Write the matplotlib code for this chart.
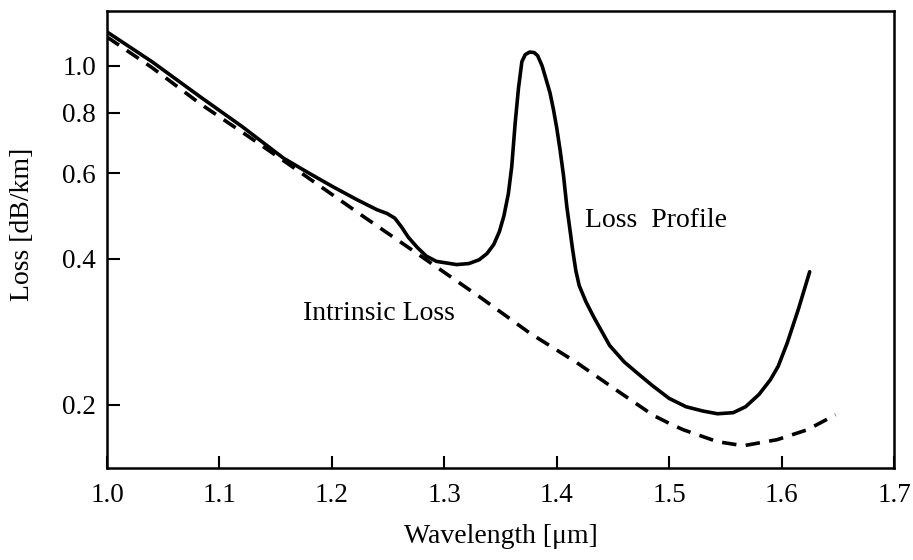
import numpy as np
import matplotlib
matplotlib.use('Agg')
import matplotlib.pyplot as plt
from matplotlib.ticker import FixedLocator, FixedFormatter, NullLocator

# values (wavelength in um, loss in dB/km)
wl_profile = [1.000, 1.040, 1.083, 1.120, 1.157, 1.180, 1.201, 1.222, 1.240,
              1.249, 1.256, 1.262, 1.268, 1.276, 1.284, 1.293, 1.311, 1.322,
              1.331, 1.338, 1.344, 1.349, 1.353, 1.357, 1.360, 1.363, 1.366,
              1.369, 1.372, 1.376, 1.380, 1.383, 1.387, 1.391, 1.394, 1.397,
              1.400, 1.403, 1.406, 1.409, 1.412, 1.414, 1.417, 1.420, 1.426,
              1.433, 1.447, 1.460, 1.472, 1.485, 1.500, 1.515, 1.530, 1.543,
              1.557, 1.568, 1.580, 1.590, 1.597, 1.605, 1.615, 1.625]
loss_profile = [1.175, 1.020, 0.863, 0.750, 0.645, 0.600, 0.563, 0.530, 0.505,
                0.496, 0.485, 0.465, 0.443, 0.422, 0.405, 0.395, 0.389, 0.391,
                0.398, 0.410, 0.428, 0.455, 0.490, 0.545, 0.620, 0.760, 0.900,
                1.020, 1.055, 1.068, 1.065, 1.050, 1.000, 0.930, 0.880, 0.815,
                0.745, 0.670, 0.595, 0.512, 0.455, 0.420, 0.378, 0.352, 0.326,
                0.303, 0.265, 0.245, 0.232, 0.219, 0.206, 0.198, 0.194, 0.1915,
                0.1925, 0.198, 0.210, 0.225, 0.240, 0.268, 0.315, 0.376]

wl_intrinsic = [1.000, 1.040, 1.083, 1.127, 1.172, 1.228, 1.270, 1.290,
                1.332, 1.376, 1.418, 1.456, 1.486, 1.500, 1.5125, 1.543,
                1.566, 1.596, 1.623, 1.648]
loss_intrinsic = [1.147, 0.992, 0.835, 0.712, 0.603, 0.489, 0.419, 0.389,
                  0.333, 0.281, 0.244, 0.212, 0.190, 0.183, 0.1775, 0.1677,
                  0.1645, 0.1693, 0.1775, 0.1906]

xticks = [1.0, 1.1, 1.2, 1.3, 1.4, 1.5, 1.6, 1.7]
yticks = [0.2, 0.4, 0.6, 0.8, 1.0]
ytick_labels = ['0.2', '0.4', '0.6', '0.8', '1.0']

plt.rcParams['font.family'] = ['Liberation Serif', 'DejaVu Serif']

fig = plt.figure(figsize=(9.13, 5.6), dpi=100)
ax = fig.add_axes([0.1172, 0.1643, 0.8620, 0.8161])

ax.plot(wl_profile, loss_profile, color='black', lw=2.6,
        solid_joinstyle='round', solid_capstyle='round')
ax.plot(wl_intrinsic, loss_intrinsic, color='black', lw=2.6,
        dashes=(4.0, 2.6))

ax.set_yscale('log')
ax.set_xlim(1.0, 1.7)
ax.set_ylim(0.148, 1.298)

ax.xaxis.set_major_locator(FixedLocator(xticks))
ax.set_xticklabels(['%.1f' % t for t in xticks])
ax.yaxis.set_major_locator(FixedLocator(yticks))
ax.yaxis.set_major_formatter(FixedFormatter(ytick_labels))
ax.yaxis.set_minor_locator(NullLocator())
ax.xaxis.set_minor_locator(NullLocator())

ax.tick_params(direction='in', length=9, width=1.5, labelsize=19.5, pad=8)
ax.tick_params(axis='x', pad=11)
for sp in ax.spines.values():
    sp.set_linewidth(1.8)

ax.set_xlabel('Wavelength [\u03bcm]', fontsize=20, labelpad=11)
ax.set_ylabel('Loss [dB/km]', fontsize=20)
ax.yaxis.set_label_coords(-0.092, 0.532)

ax.text(1.425, 0.48, 'Loss  Profile', fontsize=20, va='center', ha='left')
ax.text(1.174, 0.309, 'Intrinsic Loss', fontsize=20, va='center', ha='left')

fig.savefig('out.png', dpi=100)
